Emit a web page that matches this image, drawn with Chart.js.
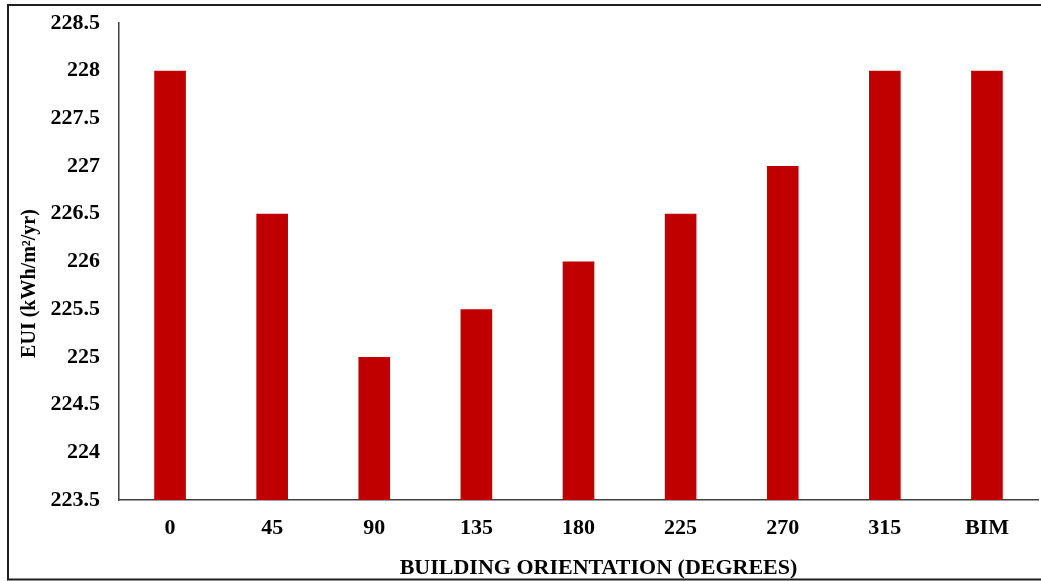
<!DOCTYPE html>
<html>
<head>
<meta charset="utf-8">
<title>EUI by Building Orientation</title>
<script src="https://cdn.jsdelivr.net/npm/chart.js@4/dist/chart.umd.min.js"></script>
<style>
  html, body { margin: 0; padding: 0; background: #ffffff; }
  #wrap { position: relative; width: 1041px; height: 581px; }
</style>
</head>
<body>
<div id="wrap"><canvas id="chart" width="1041" height="581"></canvas></div>
<script>
// Building orientation categories and energy use intensity (kWh/m²/yr)
const orientations = ['0', '45', '90', '135', '180', '225', '270', '315', 'BIM'];
const euiValues = [228, 226.5, 225, 225.5, 226, 226.5, 227, 228, 228];

// Value axis range
const yMin = 223.5;
const yMax = 228.5;
const yStep = 0.5;

const xTitle = 'BUILDING ORIENTATION (DEGREES)';
const yTitle = 'EUI (kWh/m\u00B2/yr)';

const FONT_FAMILY = '"Liberation Serif", "Times New Roman", Times, serif';
const BAR_RED = '#C00000';

// Frame around the whole figure plus the two axis titles
const framePlugin = {
  id: 'frameAndTitles',
  beforeDraw(chart) {
    const ctx = chart.ctx;
    ctx.save();
    ctx.fillStyle = '#ffffff';
    ctx.fillRect(0, 0, chart.width, chart.height);
    ctx.strokeStyle = '#1e1e1e';
    ctx.lineWidth = 2;
    ctx.beginPath();
    ctx.moveTo(chart.width + 5, 5);
    ctx.lineTo(8, 5);
    ctx.lineTo(8, 579.5);
    ctx.lineTo(chart.width + 5, 579.5);
    ctx.stroke();
    ctx.restore();
  },
  afterDraw(chart) {
    const ctx = chart.ctx;
    const area = chart.chartArea;
    ctx.save();
    ctx.fillStyle = '#000000';
    ctx.textAlign = 'center';
    ctx.textBaseline = 'alphabetic';
    // horizontal axis title
    ctx.font = 'bold 22px ' + FONT_FAMILY;
    ctx.fillText(xTitle, (area.left + area.right) / 2 + 20, 574);
    // vertical axis title, reading bottom to top
    ctx.font = 'bold 20px ' + FONT_FAMILY;
    ctx.translate(35, (area.top + area.bottom) / 2 + 22);
    ctx.rotate(-Math.PI / 2);
    ctx.fillText(yTitle, 0, 0);
    ctx.restore();
  }
};

new Chart(document.getElementById('chart'), {
  type: 'bar',
  data: {
    labels: orientations,
    datasets: [{
      data: euiValues,
      backgroundColor: BAR_RED,
      borderWidth: 0,
      categoryPercentage: 1.0,
      barPercentage: 0.31
    }]
  },
  options: {
    responsive: false,
    animation: false,
    devicePixelRatio: 1,
    layout: { padding: { top: 23, right: 3, bottom: 0, left: 0 } },
    plugins: {
      legend: { display: false },
      tooltip: { enabled: false }
    },
    scales: {
      x: {
        grid: { display: false, drawTicks: false },
        border: { display: true, color: '#404040', width: 1.5 },
        ticks: {
          color: '#000000',
          padding: 15,
          maxRotation: 0,
          font: { family: FONT_FAMILY, size: 22, weight: 'bold' }
        },
        afterFit(scale) { scale.height = 81; }
      },
      y: {
        min: yMin,
        max: yMax,
        grid: { display: false, drawTicks: false },
        border: { display: true, color: '#404040', width: 1.5 },
        ticks: {
          stepSize: yStep,
          color: '#000000',
          padding: 19,
          font: { family: FONT_FAMILY, size: 22, weight: 'bold' },
          callback: (v) => String(Math.round(v * 10) / 10)
        },
        afterFit(scale) {
          scale.width = 119;
          scale.paddingTop = 0;
          scale.paddingBottom = 0;
        }
      }
    }
  },
  plugins: [framePlugin]
});
</script>
</body>
</html>
